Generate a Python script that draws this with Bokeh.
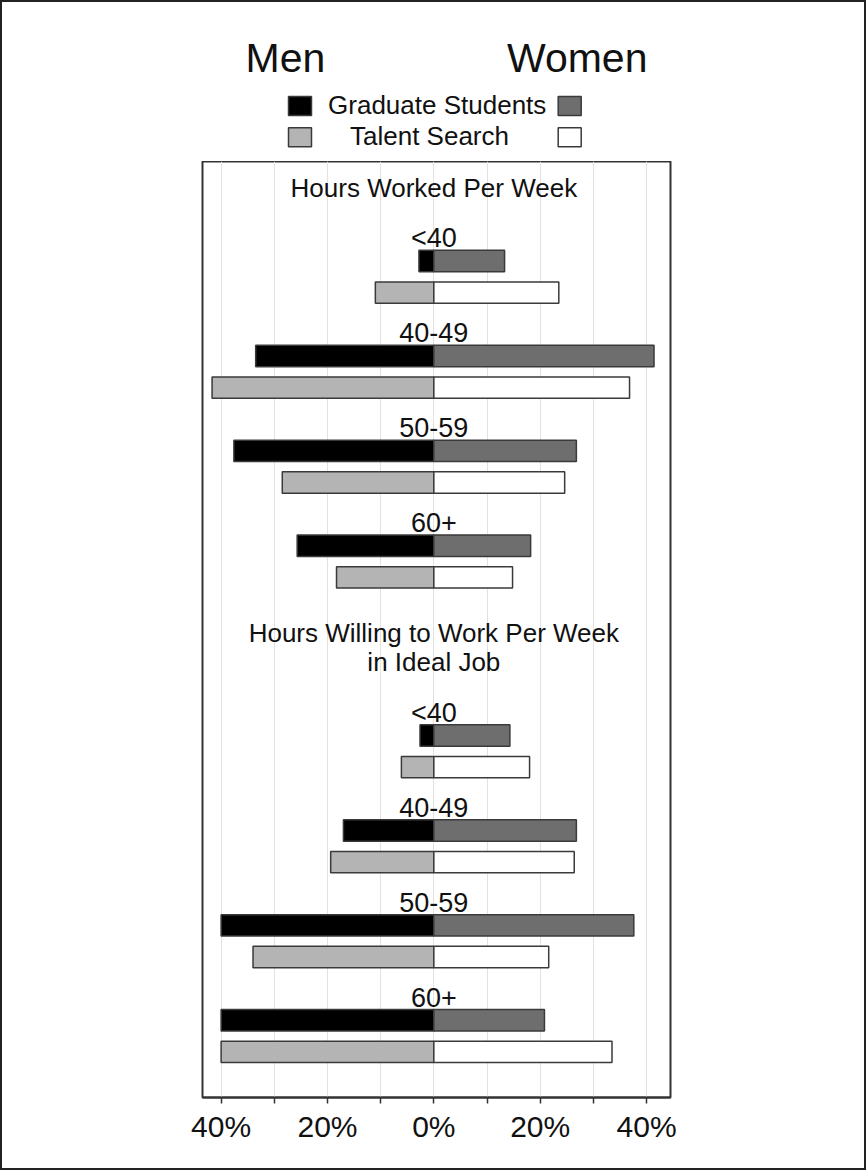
from bokeh.plotting import figure
from bokeh.models import Range1d, FixedTicker
from bokeh.layouts import column
from bokeh.embed import file_html
from bokeh.resources import INLINE
from bokeh.core.properties import value

# ---------------- data ----------------
categories = ["<40", "40-49", "50-59", "60+"]
section_titles = [["Hours Worked Per Week"],
                  ["Hours Willing to Work Per Week", "in Ideal Job"]]
side_titles = ["Men", "Women"]
series_names = ["Graduate Students", "Talent Search"]

worked_grad_men = [2.8, 33.5, 37.6, 25.7]
worked_grad_women = [13.3, 41.4, 26.8, 18.2]
worked_talent_men = [11.0, 41.7, 28.5, 18.3]
worked_talent_women = [23.5, 36.8, 24.6, 14.8]

willing_grad_men = [2.6, 17.0, 40.0, 40.0]
willing_grad_women = [14.3, 26.8, 37.6, 20.8]
willing_talent_men = [6.1, 19.4, 34.0, 40.0]
willing_talent_women = [18.0, 26.4, 21.6, 33.5]

x_ticks = [-40, -30, -20, -10, 0, 10, 20, 30, 40]
tick_labels = {-40: "40%", -30: "", -20: "20%", -10: "", 0: "0%",
               10: "", 20: "20%", 30: "", 40: "40%"}

# ---------------- style ----------------
FONT = value("Liberation Sans")
C_GM, C_GW, C_TM, C_TW = "#000000", "#6e6e6e", "#b4b4b4", "#ffffff"
EDGE = "#3a3a3a"
TXT = "#111111"

section_starts = [0, 5]
grad_men = worked_grad_men + willing_grad_men
grad_women = worked_grad_women + willing_grad_women
tal_men = worked_talent_men + willing_talent_men
tal_women = worked_talent_women + willing_talent_women

ys_grad = [s + i for s in section_starts for i in range(len(categories))]
ys_tal = [y + 0.333 for y in ys_grad]

# ---------------- geometry ----------------
W = 862
FL, FR = 200, 668          # frame left / right (content px)
HH = 159                   # header height
HM = 1007                  # main figure height

# ---------------- header ----------------
h = figure(width=W, height=HH, x_range=Range1d(FL, FR), y_range=Range1d(HH, 0),
           output_backend="svg", toolbar_location=None, title=None,
           x_axis_location=None, y_axis_location=None,
           min_border_left=FL, min_border_right=W - FR,
           min_border_top=0, min_border_bottom=0,
           outline_line_color=None)
h.grid.visible = False
h.text(x=[283, 574.7], y=[55.5, 55.5], text=side_titles, text_align="center",
       text_baseline="middle", text_font=FONT, text_font_size="41px",
       text_color=TXT)
h.rect(x=[297.5, 567.2, 297.5, 567.2], y=[103.5, 103.5, 134.8, 134.8],
       width=23, height=19, fill_color=[C_GM, C_GW, C_TM, C_TW],
       line_color=EDGE, line_width=1.5)
h.text(x=[434.7, 427], y=[102.3, 133.7], text=series_names, text_align="center",
       text_baseline="middle", text_font=FONT, text_font_size="26px",
       text_color=TXT)

# ---------------- main ----------------
p = figure(width=W, height=HM, x_range=Range1d(-43.5, 44.5),
           y_range=Range1d(8.814, -1.049), output_backend="svg",
           toolbar_location=None, title=None, y_axis_location=None,
           min_border_left=FL, min_border_right=W - FR, min_border_top=0,
           min_border_bottom=HM - 936, outline_line_color="#333333",
           outline_line_width=2)
p.ygrid.visible = False
p.xgrid.ticker = FixedTicker(ticks=x_ticks)
p.xgrid.grid_line_color = "#e2e2e2"
p.xgrid.grid_line_width = 1

ax = p.xaxis[0]
ax.ticker = FixedTicker(ticks=x_ticks)
ax.major_label_overrides = tick_labels
ax.major_label_text_font = "Liberation Sans"
ax.major_label_text_font_size = "30px"
ax.major_label_text_color = TXT
ax.major_label_standoff = 6
ax.major_tick_out = 6
ax.major_tick_in = 0
ax.major_tick_line_color = "#333333"
ax.major_tick_line_width = 1.5
ax.minor_tick_line_color = None
ax.axis_line_color = "#333333"
ax.axis_line_width = 2

BH = 0.225
p.hbar(y=ys_grad, left=[-v for v in grad_men], right=0, height=BH,
       fill_color=C_GM, line_color=EDGE, line_width=1.5)
p.hbar(y=ys_grad, left=0, right=grad_women, height=BH,
       fill_color=C_GW, line_color=EDGE, line_width=1.5)
p.hbar(y=ys_tal, left=[-v for v in tal_men], right=0, height=BH,
       fill_color=C_TM, line_color=EDGE, line_width=1.5)
p.hbar(y=ys_tal, left=0, right=tal_women, height=BH,
       fill_color=C_TW, line_color=EDGE, line_width=1.5)

p.text(x=0, y=[y - 0.242 for y in ys_grad], text=categories * len(section_starts),
       text_align="center", text_baseline="middle", text_font=FONT,
       text_font_size="27px", text_color=TXT)

title_y = []
title_txt = []
for s, lines in zip(section_starts, section_titles):
    n = len(lines)
    for k, line in enumerate(lines):
        title_y.append(s - 0.77 - 0.315 * (n - 1 - k))
        title_txt.append(line)
p.text(x=0, y=title_y, text=title_txt, text_align="center",
       text_baseline="middle", text_font=FONT, text_font_size="26px",
       text_color=TXT)

layout = column(h, p, spacing=0, styles={"border": "2px solid #222222"})

with open("out.html", "w") as f:
    f.write(file_html(layout, INLINE))
